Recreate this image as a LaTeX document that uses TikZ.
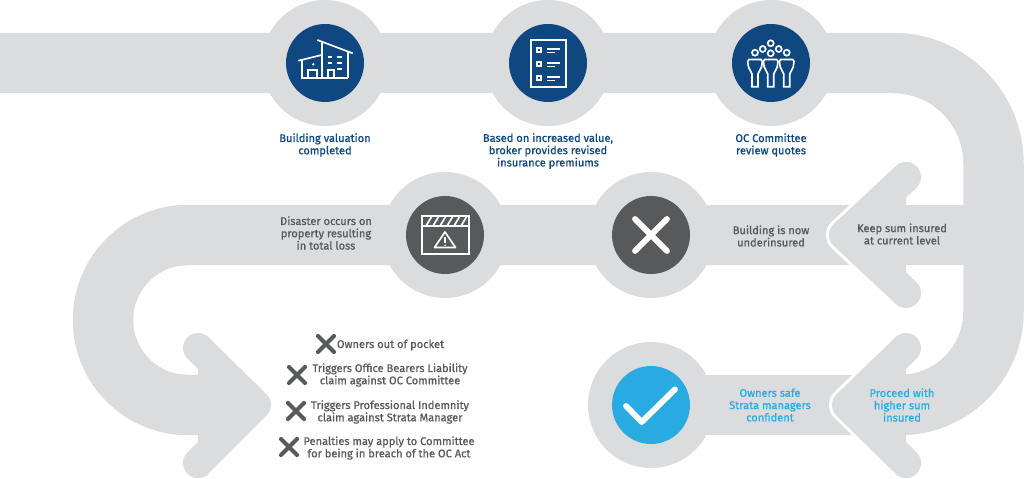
\documentclass[tikz,border=0pt]{standalone}
\usepackage{fontspec}
\setmainfont{Fira Sans}[FakeBold=0.9]
\definecolor{bandgray}{HTML}{DBDCDE}
\definecolor{navy}{HTML}{0F4880}
\definecolor{darkgray}{HTML}{58595B}
\definecolor{skyblue}{HTML}{29ABE2}
\tikzset{
	band/.style={draw=bandgray, line width=1.21cm},
	barb/.style={draw=bandgray, fill=bandgray, line width=.6cm, line cap=round, line join=round},
	barbgap/.style={draw=white, line width=.72cm, line cap=round, line join=round},
	ring/.style={circle, fill=bandgray, minimum size=2.52cm, inner sep=0},
	disc/.style={circle, minimum size=1.56cm, inner sep=0},
	icon/.style={draw=white, line width=.95pt},
	sign/.style={draw=white, line width=3.3pt, line cap=round, line join=round},
	mark x/.style={draw=darkgray, line width=2.4pt, line cap=round},
	note/.style={align=center, inner sep=0, font=\fontsize{6.3}{7}\selectfont},
	navy note/.style={note, text=navy},
	gray note/.style={note, text=darkgray},
	sky note/.style={note, text=skyblue}
}
\begin{document}
\begin{tikzpicture}[x=.02cm, y=-.02cm]
	\useasboundingbox (0,0) rectangle (1024,479);

	% DRAW THE LOWER BANDS
	\draw[band] (860,235) -- (188,235) arc (-90:-270:85) -- (205,405);
	\draw[band] (651,405) -- (860,405);

	% PLACE WHITE GAPS AROUND THE RIGHT ARROWHEADS
	\draw[barbgap] (906,177) -- (844,235) -- (906,293);
	\draw[barbgap] (906,348) -- (847,405) -- (906,463);

	% DRAW TOP BAND WITH THE BIG CURVE
	\draw[band] (0,63) -- (893,63) arc (-90:0:100.5) -- (993.5,311.5) arc (0:90:93.5);
	\draw[band] (970,235) -- (900,235);

	% DRAW ARROWHEADS
	\draw[barb] (198,348) -- (256,405) -- (198,463);
	\draw[barb] (906,177) -- (844,235) -- (906,293);
	\draw[barb] (906,348) -- (847,405) -- (906,463);

	% PLACE THE CIRCLES
	\node[ring] (valuation ring) at (325,63) {};
	\node[ring] (premiums ring) at (548,63) {};
	\node[ring] (committee ring) at (771,63) {};
	\node[ring] (disaster ring) at (445,235) {};
	\node[ring] (underinsured ring) at (651,235) {};
	\node[ring] (safe ring) at (651,405) {};

	\node[disc, fill=navy] (valuation) at (325,63) {};
	\node[disc, fill=navy] (premiums) at (548,63) {};
	\node[disc, fill=navy] (committee) at (771,63) {};
	\node[disc, fill=darkgray] (disaster) at (445,235) {};
	\node[disc, fill=darkgray] (underinsured) at (651,235) {};
	\node[disc, fill=skyblue] (safe) at (651,405) {};

	% BUILDING ICON
	\draw[icon] (317.3,40) -- (352.7,53.3);
	\draw[icon] (298.3,60.7) -- (321.7,55);
	\draw[icon] (321.7,42) -- (321.7,77.7);
	\draw[icon] (348.3,51.8) -- (348.3,77.7);
	\draw[icon] (302.3,59.7) -- (302.3,77.7) -- (348.3,77.7);
	\draw[icon] (308.3,77.7) -- (308.3,70) -- (317.3,70) -- (317.3,77.7);
	\draw[icon] (328.3,77.7) -- (328.3,70) -- (333.7,70) -- (333.7,77.7);
	\fill[white] (313.3,64.3) circle (1.3);
	\draw[icon] (327.7,56.7) -- (332.3,56.7);
	\draw[icon] (336.7,56.7) -- (341.7,56.7);
	\draw[icon] (327.7,63.3) -- (332.3,63.3);
	\draw[icon] (336.7,63.3) -- (341.7,63.3);
	\draw[icon] (336.7,69) -- (341.7,69);

	% CHECKLIST ICON
	\draw[icon] (531,40) rectangle (566,87);
	\draw[icon] (537,48) rectangle (541,52);
	\draw[icon] (537,62) rectangle (541,66);
	\draw[icon] (537,76) rectangle (541,80);
	\draw[icon] (547,49) -- (560,49);
	\draw[icon] (547,52.5) -- (555,52.5);
	\draw[icon] (547,63) -- (560,63);
	\draw[icon] (547,66.5) -- (555,66.5);
	\draw[icon] (547,77) -- (560,77);
	\draw[icon] (547,80.5) -- (555,80.5);

	% PEOPLE ICON
	\draw[icon] (770.7,43.3) circle (3);
	\draw[icon] (762.7,49) circle (3);
	\draw[icon] (778.7,49) circle (3);
	\draw[icon] (755,52.7) circle (3);
	\draw[icon] (770.7,53.3) circle (3);
	\draw[icon] (786.7,52.7) circle (3);
	\draw[icon] (749,59.5) -- (761,59.5) -- (762.3,61.5) -- (761.5,67) -- (758,74) -- (758,86.7) -- (752,86.7) -- (752,74) -- (748.5,67) -- (747.7,61.5) -- cycle;
	\draw[icon] (764.7,59.5) -- (776.7,59.5) -- (778,61.5) -- (777.2,67) -- (773.7,74) -- (773.7,86.7) -- (767.7,86.7) -- (767.7,74) -- (764.2,67) -- (763.4,61.5) -- cycle;
	\draw[icon] (780.7,59.5) -- (792.7,59.5) -- (794,61.5) -- (793.2,67) -- (789.7,74) -- (789.7,86.7) -- (783.7,86.7) -- (783.7,74) -- (780.2,67) -- (779.4,61.5) -- cycle;

	% WARNING ICON
	\draw[icon] (422,216) rectangle (469,254);
	\draw[icon] (422,226) -- (469,226);
	\draw[icon] (426,226) -- (432,216);
	\draw[icon] (433,226) -- (439,216);
	\draw[icon] (440,226) -- (446,216);
	\draw[icon] (447,226) -- (453,216);
	\draw[icon] (454,226) -- (460,216);
	\draw[icon] (461,226) -- (467,216);
	\draw[icon, line join=round] (445,232) -- (455.5,247.5) -- (434.5,247.5) -- cycle;
	\draw[icon] (445,237) -- (445,243);
	\fill[white] (445,245.3) circle (.8);

	% CROSS AND TICK
	\draw[sign] (635,219) -- (667,251);
	\draw[sign] (667,219) -- (635,251);
	\draw[sign] (626,406) -- (641.7,422) -- (675,389.3);

	% MARKS AT THE LIST
	\draw[mark x] (318,336) -- (334,352);
	\draw[mark x] (334,336) -- (318,352);
	\draw[mark x] (289,367) -- (305,383);
	\draw[mark x] (305,367) -- (289,383);
	\draw[mark x] (288,403) -- (304,419);
	\draw[mark x] (304,403) -- (288,419);
	\draw[mark x] (281,439) -- (297,455);
	\draw[mark x] (297,439) -- (281,455);

	% WRITE THE NOTES
	\node[navy note] (valuation text) at (325,145) {Building valuation\\completed};
	\node[navy note] (premiums text) at (548,151) {Based on increased value,\\broker provides revised\\insurance premiums};
	\node[navy note] (committee text) at (771,145) {OC Committee\\review quotes};
	\node[gray note] (disaster text) at (326,233) {Disaster occurs on\\property resulting\\in total loss};
	\node[gray note] (underinsured text) at (771,236) {Building is now\\underinsured};
	\node[gray note] (keep text) at (902,234) {Keep sum insured\\at current level};
	\node[sky note] (safe text) at (770,405) {Owners safe\\Strata managers\\confident};
	\node[sky note] (proceed text) at (902,405) {Proceed with\\higher sum\\insured};

	\node[gray note] (pocket text) at (390.5,345) {Owners out of pocket};
	\node[gray note] (bearers text) at (390,375) {Triggers Office Bearers Liability\\claim against OC Committee};
	\node[gray note] (indemnity text) at (390,412) {Triggers Professional Indemnity\\claim against Strata Manager};
	\node[gray note] (penalties text) at (389,448) {Penalties may apply to Committee\\for being in breach of the OC Act};
\end{tikzpicture}
\end{document}
